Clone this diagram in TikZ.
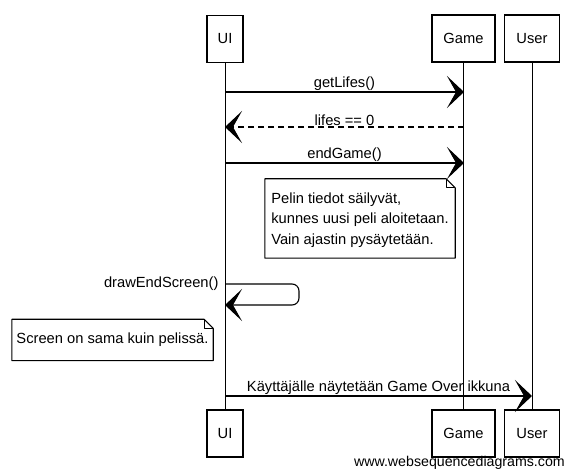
\documentclass[tikz,border=0pt]{standalone}
\usepackage{fontspec}
\setmainfont{Liberation Sans}
\usetikzlibrary{arrows.meta,positioning,calc}
\newcommand{\seqfont}{\fontsize{14.7}{20.5}\selectfont}
\tikzset{
  % participant box, drawn at top and bottom of each lifeline
  actor/.style = {rectangle, draw, line width=1.1pt, minimum height=47pt,
                  inner sep=0pt, font=\seqfont},
  life/.style  = {line width=0.9pt},
  arr/.style   = {-{Stealth[length=17pt, width=32pt, inset=9pt]}, line width=1.1pt},
  reply/.style = {arr, dash pattern=on 6pt off 4pt},
  lbl/.style   = {font=\seqfont, inner sep=0pt},
  memo/.style  = {font=\seqfont, inner sep=0pt},
  fold/.style  = {line width=1.1pt, line join=round},
}

\begin{document}
\begin{tikzpicture}[x=1pt,y=-1pt]
\useasboundingbox (0,0) rectangle (574,476);
% --- participants ------------------------------------------------------
\node[actor, minimum width=36pt] (ui)    at (225,39)    {UI};
\node[actor, minimum width=63pt] (game)  at (463.5,38.5) {Game};
\node[actor, minimum width=55pt] (user)  at (532,38.5)  {User};
\node[actor, minimum width=36pt] (uib)   at (225,433.5) {UI};
\node[actor, minimum width=63pt] (gameb) at (463.5,433.5) {Game};
\node[actor, minimum width=55pt] (userb) at (532,433.5) {User};
% --- lifelines ---------------------------------------------------------
\draw[life] (ui) -- (uib);
\draw[life] (game) -- (gameb);
\draw[life] (user) -- (userb);
% --- messages ----------------------------------------------------------
\coordinate (ui1) at (225,92);  \coordinate (g1) at (464,92);
\coordinate (ui2) at (225,127); \coordinate (g2) at (464,127);
\coordinate (ui3) at (225,163); \coordinate (g3) at (464,163);
\coordinate (ui4) at (225,284); \coordinate (ui5) at (225,305);
\coordinate (ui6) at (225,396); \coordinate (u6) at (532,396);
\draw[arr]   (ui1) -- (g1) node[midway, above=1pt, lbl] {getLifes()};
\draw[reply] (g2) -- (ui2) node[midway, above=1pt, lbl] {lifes == 0};
\draw[arr]   (ui3) -- (g3) node[midway, above=1pt, lbl] {endGame()};
\draw[arr, rounded corners=7pt] (ui4) node[left=6pt, lbl] {drawEndScreen()}
      -- ++(74,0) -- ++(0,21) -- (ui5);
\draw[arr]   (ui6) -- (u6) node[midway, above=1pt, lbl] {Käyttäjälle näytetään Game Over ikkuna};
% --- notes -------------------------------------------------------------
\node[memo, minimum width=190pt, minimum height=79pt, align=left, text depth=-3pt]
      (n1) at (360,218.5)
      {Pelin tiedot säilyvät,\\kunnes uusi peli aloitetaan.\\Vain ajastin pysäytetään.};
\draw[fold] (n1.north west) -- ([xshift=-9pt]n1.north east) -- ([yshift=-9pt]n1.north east)
      -- (n1.south east) -- (n1.south west) -- cycle;
\draw[fold] ([xshift=-9pt]n1.north east) -- ([xshift=-9pt,yshift=-9pt]n1.north east)
      -- ([yshift=-9pt]n1.north east);
\node[memo, minimum width=201pt, minimum height=41pt] (n2) at (112.5,340)
      {Screen on sama kuin pelissä.};
\draw[fold] (n2.north west) -- ([xshift=-9pt]n2.north east) -- ([yshift=-9pt]n2.north east)
      -- (n2.south east) -- (n2.south west) -- cycle;
\draw[fold] ([xshift=-9pt]n2.north east) -- ([xshift=-9pt,yshift=-9pt]n2.north east)
      -- ([yshift=-9pt]n2.north east);
% --- watermark ---------------------------------------------------------
\node[lbl, anchor=east, font=\fontsize{14.2}{17}\selectfont] (wsd) at (565,463)
      {www.websequencediagrams.com};
\end{tikzpicture}
\end{document}
